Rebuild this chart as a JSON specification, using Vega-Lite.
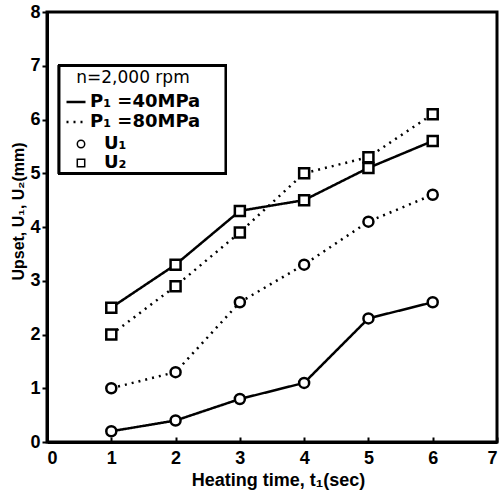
{
  "$schema": "https://vega.github.io/schema/vega-lite/v6.json",
  "width": 450,
  "height": 430,
  "autosize": {"type": "none"},
  "padding": {"left": 47, "top": 12, "right": 2, "bottom": 58},
  "background": "white",
  "config": {
    "font": "Liberation Sans",
    "view": {"stroke": "black", "strokeWidth": 3},
    "axis": {
      "grid": false,
      "domainColor": "black",
      "domainWidth": 3,
      "tickColor": "black",
      "tickWidth": 2,
      "labelFont": "Liberation Sans",
      "labelFontWeight": "bold",
      "labelFontSize": 18,
      "labelColor": "black",
      "titleFont": "Liberation Sans",
      "titleFontWeight": "bold",
      "titleFontSize": 16,
      "titleColor": "black"
    },
    "legend": {
      "labelFont": "DejaVu Sans",
      "titleFont": "DejaVu Sans",
      "labelColor": "black",
      "titleColor": "black",
      "padding": 0
    }
  },
  "data": {
    "values": [
      {"t": 1, "v": 0.2, "P": "P₁ =40MPa", "U": "U₁"},
      {"t": 2, "v": 0.4, "P": "P₁ =40MPa", "U": "U₁"},
      {"t": 3, "v": 0.8, "P": "P₁ =40MPa", "U": "U₁"},
      {"t": 4, "v": 1.1, "P": "P₁ =40MPa", "U": "U₁"},
      {"t": 5, "v": 2.3, "P": "P₁ =40MPa", "U": "U₁"},
      {"t": 6, "v": 2.6, "P": "P₁ =40MPa", "U": "U₁"},
      {"t": 1, "v": 2.5, "P": "P₁ =40MPa", "U": "U₂"},
      {"t": 2, "v": 3.3, "P": "P₁ =40MPa", "U": "U₂"},
      {"t": 3, "v": 4.3, "P": "P₁ =40MPa", "U": "U₂"},
      {"t": 4, "v": 4.5, "P": "P₁ =40MPa", "U": "U₂"},
      {"t": 5, "v": 5.1, "P": "P₁ =40MPa", "U": "U₂"},
      {"t": 6, "v": 5.6, "P": "P₁ =40MPa", "U": "U₂"},
      {"t": 1, "v": 1.0, "P": "P₁ =80MPa", "U": "U₁"},
      {"t": 2, "v": 1.3, "P": "P₁ =80MPa", "U": "U₁"},
      {"t": 3, "v": 2.6, "P": "P₁ =80MPa", "U": "U₁"},
      {"t": 4, "v": 3.3, "P": "P₁ =80MPa", "U": "U₁"},
      {"t": 5, "v": 4.1, "P": "P₁ =80MPa", "U": "U₁"},
      {"t": 6, "v": 4.6, "P": "P₁ =80MPa", "U": "U₁"},
      {"t": 1, "v": 2.0, "P": "P₁ =80MPa", "U": "U₂"},
      {"t": 2, "v": 2.9, "P": "P₁ =80MPa", "U": "U₂"},
      {"t": 3, "v": 3.9, "P": "P₁ =80MPa", "U": "U₂"},
      {"t": 4, "v": 5.0, "P": "P₁ =80MPa", "U": "U₂"},
      {"t": 5, "v": 5.3, "P": "P₁ =80MPa", "U": "U₂"},
      {"t": 6, "v": 6.1, "P": "P₁ =80MPa", "U": "U₂"}
    ]
  },
  "layer": [
    {
      "mark": {"type": "rect", "fill": "white", "stroke": "black", "strokeWidth": 2.5},
      "encoding": {
        "x": {"datum": 0.19, "type": "quantitative"},
        "x2": {"datum": 2.78},
        "y": {"datum": 5.0, "type": "quantitative"},
        "y2": {"datum": 7.0}
      }
    },
    {
      "mark": {"type": "line", "color": "black", "strokeWidth": 2.5},
      "encoding": {
        "x": {
          "field": "t", "type": "quantitative",
          "scale": {"domain": [0, 7], "nice": false},
          "axis": {"title": "Heating time, t₁(sec)", "titleFontSize": 18, "titleX": 231, "values": [0,1,2,3,4,5,6,7], "tickSize": -5, "labelPadding": 12, "titlePadding": 4, "format": "d"}
        },
        "y": {
          "field": "v", "type": "quantitative",
          "scale": {"domain": [0, 8], "nice": false},
          "axis": {"title": "Upset, U₁, U₂(mm)", "values": [0,1,2,3,4,5,6,7,8], "tickSize": 5, "labelPadding": 2, "titlePadding": 3, "titleY": 199, "format": "d"}
        },
        "detail": {"field": "U"},
        "strokeDash": {
          "field": "P", "type": "nominal",
          "scale": {"domain": ["P₁ =40MPa", "P₁ =80MPa"], "range": [[1, 0], [2, 5]]},
          "legend": {
            "orient": "none",
            "legendX": 18,
            "legendY": 58,
            "title": "n=2,000 rpm",
            "titleFontSize": 17,
            "titleFontWeight": "normal",
            "titleAnchor": "middle",
            "titlePadding": 4,
            "labelFontSize": 18,
            "labelFontWeight": "bold",
            "labelOffset": 3,
            "rowPadding": 0,
            "symbolType": "stroke",
            "symbolSize": 361,
            "symbolStrokeWidth": 2.5,
            "symbolStrokeColor": "black"
          }
        }
      }
    },
    {
      "mark": {"type": "point", "filled": true, "fill": "white", "stroke": "black", "strokeWidth": 2.5, "size": 100, "opacity": 1},
      "encoding": {
        "x": {"field": "t", "type": "quantitative"},
        "y": {"field": "v", "type": "quantitative"},
        "shape": {
          "field": "U", "type": "nominal",
          "scale": {"domain": ["U₁", "U₂"], "range": ["circle", "square"]},
          "legend": {
            "orient": "none",
            "legendX": 25,
            "legendY": 123,
            "title": null,
            "labelFontSize": 18,
            "labelFontWeight": "bold",
            "labelOffset": 14,
            "rowPadding": 1,
            "symbolSize": 55,
            "encode": {
              "symbols": {
                "update": {
                  "stroke": {"value": "black"},
                  "fill": {"value": "white"},
                  "strokeWidth": {"value": 2.5},
                  "opacity": {"value": 1}
                }
              }
            }
          }
        }
      }
    }
  ]
}
